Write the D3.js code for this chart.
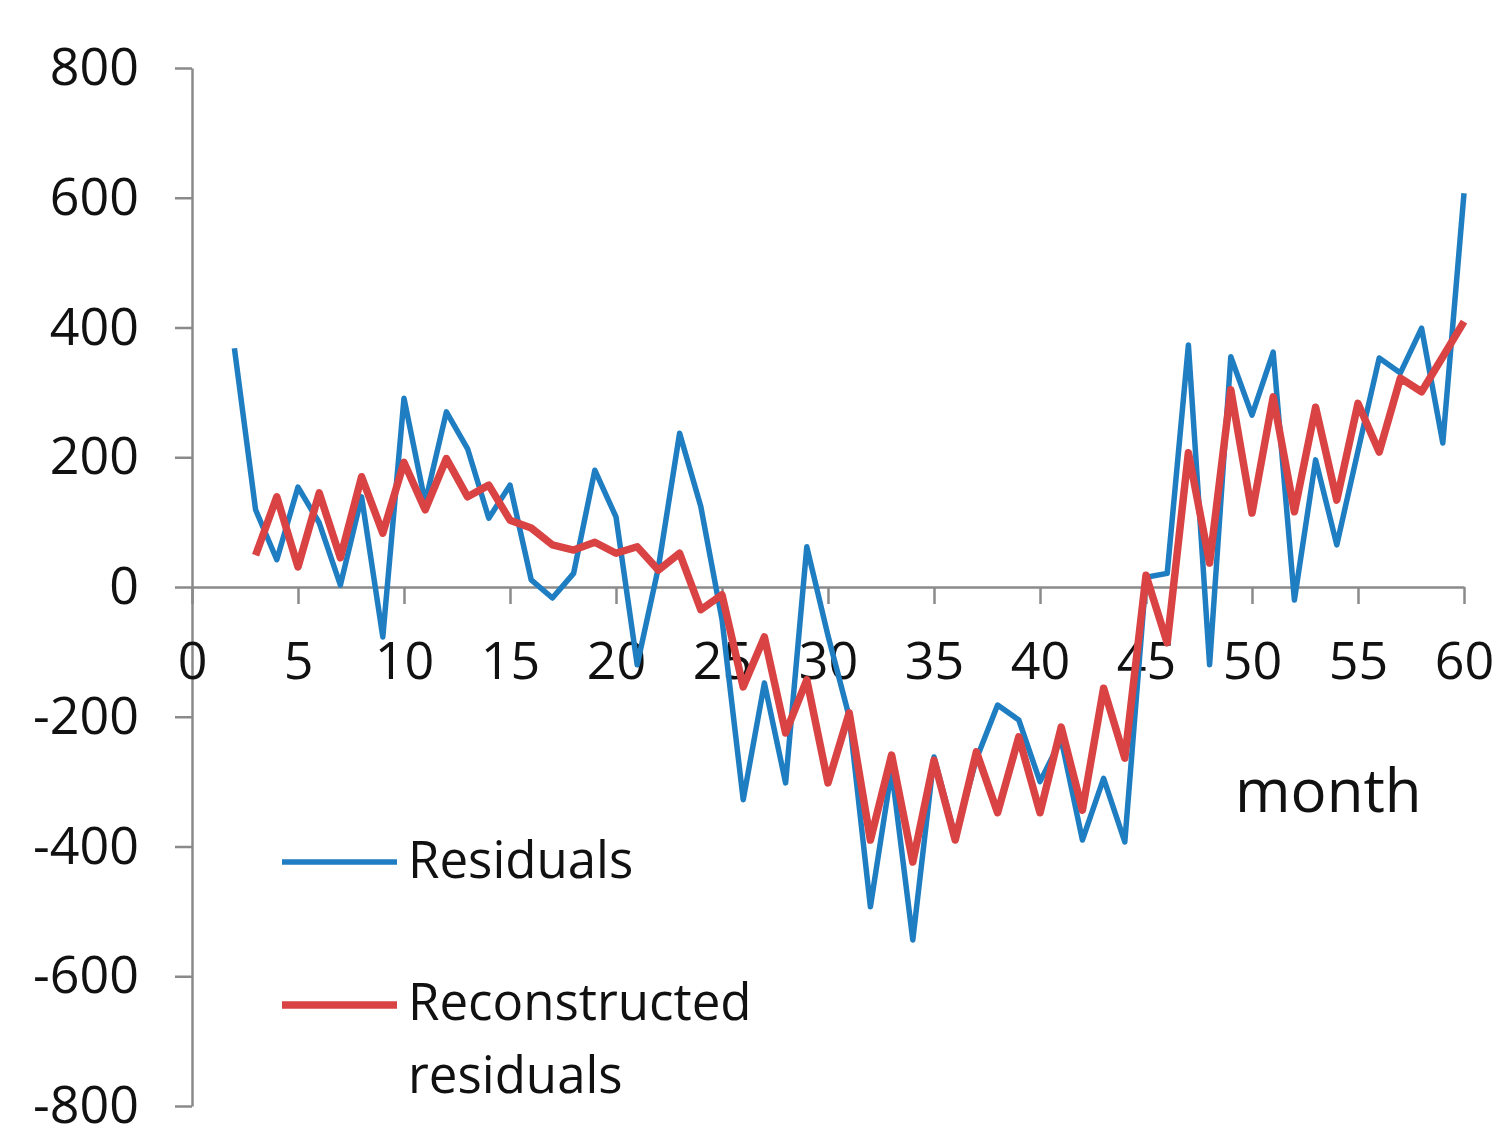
<!DOCTYPE html>
<html>
<head>
<meta charset="utf-8">
<script src="https://cdn.jsdelivr.net/npm/d3@7"></script>
<style>
  body { margin: 0; background: #fff; }
  text { font-family: "Open Sans", sans-serif; fill: #111; }
</style>
</head>
<body>
<script>
// months where each series starts
var residualStart = 2;
var reconStart = 3;

var residuals = [368, 119, 42, 154, 99, 3, 139, -77, 291, 130,
  270, 213, 106, 157, 11, -17, 21, 180, 108, -120,
  30, 237, 124, -50, -328, -148, -302, 62, -75, -200,
  -493, -282, -544, -262, -385, -265, -182, -205, -300, -235,
  -390, -295, -393, 15, 21, 373, -120, 355, 265, 362,
  -20, 196, 65, 210, 353, 330, 399, 222, 607];

var reconstructed = [49, 139, 31, 145, 45, 170, 83, 192, 119,
  198, 139, 157, 103, 91, 65, 57, 69, 52, 62,
  26, 52, -35, -12, -154, -77, -225, -143, -302, -194,
  -390, -259, -424, -267, -390, -254, -348, -231, -348, -216,
  -344, -156, -264, 18, -86, 207, 37, 304, 114, 293,
  116, 277, 134, 283, 208, 322, 301, 355, 409];

var xTicks = [0, 5, 10, 15, 20, 25, 30, 35, 40, 45, 50, 55, 60];
var yTicks = [-800, -600, -400, -200, 0, 200, 400, 600, 800];

var width = 1498, height = 1129;
var margin = {left: 192, right: 1464, top: 68, bottom: 1106};

var svg = d3.select("body").append("svg")
    .attr("width", width)
    .attr("height", height);

var x = d3.scaleLinear().domain([0, 60]).range([margin.left, margin.right]);
var y = d3.scaleLinear().domain([-800, 800]).range([margin.bottom, margin.top]);

var axisColor = "#8a8a8a";
var plain = function(d) { return String(d); };   // keep the short hyphen minus

// y axis
var gy = svg.append("g")
    .attr("transform", "translate(" + margin.left + ",0)")
    .call(d3.axisLeft(y).tickValues(yTicks).tickFormat(plain)
        .tickSize(17).tickSizeOuter(0).tickPadding(36));
gy.selectAll("text").style("font-size", "52px").style("font-family", "'Open Sans', sans-serif").attr("fill", "#111");

// x axis through zero
var gx = svg.append("g")
    .attr("transform", "translate(0," + y(0) + ")")
    .call(d3.axisBottom(x).tickValues(xTicks).tickFormat(plain)
        .tickSize(17).tickSizeOuter(0).tickPadding(38));
gx.selectAll("text").style("font-size", "52px").style("font-family", "'Open Sans', sans-serif").attr("fill", "#111");

svg.selectAll(".domain, .tick line")
    .attr("stroke", axisColor)
    .attr("stroke-width", 2.5);

var line = d3.line()
    .x(function(d) { return x(d.m); })
    .y(function(d) { return y(d.v); });

var blueData = residuals.map(function(v, i) { return {m: residualStart + i, v: v}; });
var redData = reconstructed.map(function(v, i) { return {m: reconStart + i, v: v}; });

svg.append("path")
    .datum(blueData)
    .attr("d", line)
    .attr("fill", "none")
    .attr("stroke", "#1f7dc1")
    .attr("stroke-width", 5.5)
    .attr("stroke-linejoin", "round");

svg.append("path")
    .datum(redData)
    .attr("d", line)
    .attr("fill", "none")
    .attr("stroke", "#d94343")
    .attr("stroke-width", 7.5)
    .attr("stroke-linejoin", "round");

// legend
var legend = svg.append("g");
legend.append("line")
    .attr("x1", 282).attr("x2", 397).attr("y1", 862).attr("y2", 862)
    .attr("stroke", "#1f7dc1").attr("stroke-width", 5.5);
legend.append("line")
    .attr("x1", 282).attr("x2", 397).attr("y1", 1005).attr("y2", 1005)
    .attr("stroke", "#d94343").attr("stroke-width", 7.5);
legend.append("text").attr("x", 408).attr("y", 878)
    .style("font-size", "51px").text("Residuals");
legend.append("text").attr("x", 408).attr("y", 1020)
    .style("font-size", "51px").text("Reconstructed");
legend.append("text").attr("x", 408).attr("y", 1093)
    .style("font-size", "51px").text("residuals");

svg.append("text")
    .attr("x", 1235).attr("y", 812)
    .style("font-size", "60px")
    .text("month");
</script>
</body>
</html>
